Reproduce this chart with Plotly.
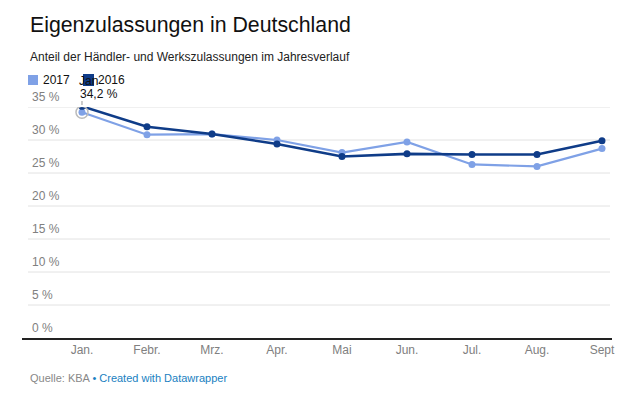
import plotly.graph_objects as go

months = ["Jan.", "Febr.", "Mrz.", "Apr.", "Mai", "Jun.", "Jul.", "Aug.", "Sept"]
y2017 = [34.2, 30.8, 30.9, 30.0, 28.1, 29.7, 26.3, 26.0, 28.7]
y2016 = [35.1, 32.0, 30.9, 29.4, 27.5, 27.9, 27.8, 27.8, 29.9]
yticks = [0, 5, 10, 15, 20, 25, 30, 35]
ytick_labels = ["0 %", "5 %", "10 %", "15 %", "20 %", "25 %", "30 %", "35 %"]

C17 = "#7fa1e6"
C16 = "#0f3c88"
FONT = "Liberation Sans, Arial, sans-serif"

OFF = 8  # page body margin
W, H = 640, 400
SL, SR, ST, SB = 22, 612, 107, 338
L, T = SL - OFF, ST - OFF
R = (W + OFF) - SR
B = (H + OFF) - SB
pw, ph = SR - SL, SB - ST

def px(x):
    return (x - SL) / pw

def py(y):
    return (SB - y) / ph

xs = list(range(len(months)))

fig = go.Figure()
for v in yticks[1:]:
    fig.add_shape(type="line", xref="paper", yref="y", x0=px(28), x1=px(610), y0=v, y1=v,
                  line=dict(color="#e2e2e2", width=1), layer="below")

fig.add_trace(go.Scatter(x=xs, y=y2017, mode="lines+markers", name="2017",
                         line=dict(color=C17, width=2.2), marker=dict(size=7, color=C17)))
fig.add_trace(go.Scatter(x=xs, y=y2016, mode="lines+markers", name="2016",
                         line=dict(color=C16, width=2.6), marker=dict(size=7, color=C16)))
fig.add_trace(go.Scatter(x=[xs[0]], y=[y2017[0]], mode="markers",
                         marker=dict(size=12, color="rgba(0,0,0,0)", line=dict(color="#bbbbbb", width=1.5)),
                         showlegend=False))

ann = []
for v, t in zip(yticks, ytick_labels):
    ann.append(dict(x=px(30), y=v, xref="paper", yref="y", text=t, showarrow=False,
                    xanchor="left", yanchor="bottom", yshift=1,
                    font=dict(family=FONT, size=12, color="#808080")))

ann.append(dict(x=xs[0], y=y2017[0], xref="x", yref="y",
                text=f"{y2017[0]:.1f}".replace(".", ",") + " %",
                showarrow=False, xanchor="left", yanchor="middle", xshift=-4, yshift=18,
                font=dict(family=FONT, size=12, color="#111111")))

ann.append(dict(x=px(28), y=py(25), xref="paper", yref="paper", text="Eigenzulassungen in Deutschland",
                showarrow=False, xanchor="left", yanchor="middle",
                font=dict(family=FONT, size=21.3, color="#111111")))
ann.append(dict(x=px(28), y=py(57), xref="paper", yref="paper",
                text="Anteil der Händler- und Werkszulassungen im Jahresverlauf",
                showarrow=False, xanchor="left", yanchor="middle",
                font=dict(family=FONT, size=12, color="#222222")))

ann.append(dict(x=px(77), y=py(81), xref="paper", yref="paper", text="Jan",
                showarrow=False, xanchor="left", yanchor="middle",
                font=dict(family=FONT, size=12, color="#111111")))
ann.append(dict(x=px(41), y=py(80), xref="paper", yref="paper", text="2017",
                showarrow=False, xanchor="left", yanchor="middle",
                font=dict(family=FONT, size=12, color="#111111")))
ann.append(dict(x=px(96), y=py(80), xref="paper", yref="paper", text="2016",
                showarrow=False, xanchor="left", yanchor="middle",
                font=dict(family=FONT, size=12, color="#111111")))
fig.add_shape(type="rect", xref="paper", yref="paper", x0=px(28), x1=px(38), y0=py(85), y1=py(75),
              fillcolor=C17, line=dict(width=0))
fig.add_shape(type="rect", xref="paper", yref="paper", x0=px(83), x1=px(94), y0=py(86), y1=py(74),
              fillcolor=C16, line=dict(width=0))
fig.add_shape(type="line", xref="x", yref="paper", x0=xs[0], x1=xs[0], y0=py(101), y1=py(105),
              line=dict(color="#999999", width=1))

ann.append(dict(x=px(28), y=py(378), xref="paper", yref="paper",
                text="<span style='color:#888888'>Quelle: KBA </span><span style='color:#1a7fc1'>• Created with Datawrapper</span>",
                showarrow=False, xanchor="left", yanchor="middle",
                font=dict(family=FONT, size=11, color="#888888")))

fig.update_layout(
    width=W, height=H,
    margin=dict(l=L, r=R, t=T, b=B),
    paper_bgcolor="white", plot_bgcolor="white",
    showlegend=False,
    annotations=ann,
    xaxis=dict(range=[-0.923, 8.154], tickmode="array", tickvals=xs, ticktext=months,
               showgrid=False, zeroline=False, showline=True, linecolor="#222222", linewidth=1.5,
               ticks="", tickfont=dict(family=FONT, size=12, color="#808080"), fixedrange=True),
    yaxis=dict(range=[0, 35], showgrid=False, zeroline=False, showticklabels=False, fixedrange=True),
)

fig.write_html("out.html", config={"displayModeBar": False})
